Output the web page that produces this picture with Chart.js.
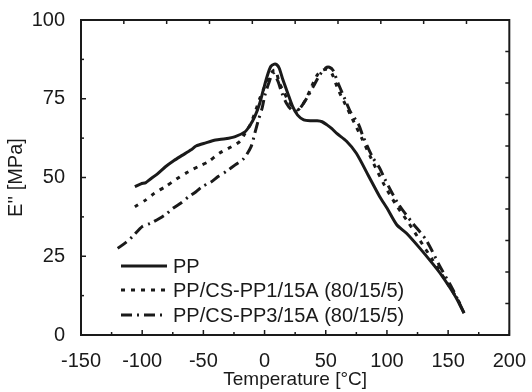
<!DOCTYPE html>
<html>
<head>
<meta charset="utf-8">
<script src="https://cdn.jsdelivr.net/npm/chart.js@4.4.0/dist/chart.umd.min.js"></script>
<style>
  html, body { margin: 0; padding: 0; background: #fff; }
  #wrap { width: 532px; height: 392px; }
</style>
</head>
<body>
<div id="wrap"><canvas id="chart"></canvas></div>
<script>
// Данные
const ppT = [-106, -101, -97, -94, -88, -81, -74, -67, -60, -56, -48, -40, -32, -24, -16, -12, -8, -4, -1, 2, 5, 8, 10, 12, 15, 19, 23, 27, 32, 38, 43, 47, 51, 55, 59, 67, 75, 85, 94, 100, 108, 116, 127, 137, 145, 151, 157, 163];
const ppE = [47.1, 48, 48.4, 49.3, 51, 53.4, 55.4, 57.1, 58.8, 60, 61, 61.9, 62.3, 63, 64.5, 66.5, 69.3, 73.5, 77.8, 82, 85.2, 86, 85.8, 84.7, 81, 76.7, 72.5, 69.8, 68.3, 68, 68, 67.7, 66.7, 65.5, 64, 61.5, 57.7, 50.5, 44, 40.3, 35, 32.3, 27.5, 22.8, 18.8, 15.3, 11.5, 6.9];

const pp1T = [-106, -97, -90, -81, -72, -62, -54, -46, -37, -27, -20, -16, -12, -8, -4, 0, 4, 8, 10, 12, 16, 19, 23, 27, 30, 34, 38, 43, 47, 51, 55, 60, 65, 70, 80, 89, 98, 108, 117, 127, 137, 146, 155, 162];
const pp1E = [40.7, 42.9, 45, 47.1, 49.5, 51.9, 53.5, 55, 57.7, 59.8, 61.5, 64, 66.5, 70.4, 75, 78.8, 82.5, 84.1, 83, 80, 77, 74.6, 72.5, 71.4, 72.5, 75, 78.5, 82.5, 84, 84.3, 83, 78, 74, 70, 62, 54.5, 47.5, 41, 36, 30, 24, 18.5, 13, 8.5];

const pp3T = [-120, -113, -108, -100, -93, -86, -80, -75, -68, -62, -56, -51, -44, -38, -31, -24, -17, -11, -8, -5, -2, 0, 3, 7, 11, 14, 18, 22, 26, 30, 35, 40, 45, 50, 53, 56, 60, 65, 70, 77, 80, 88, 94, 98, 109, 121, 132, 143, 154, 163];
const pp3E = [27.5, 29.5, 31.2, 34.4, 35.5, 37, 38.5, 40.2, 42, 43.9, 45.5, 47.1, 48.5, 50.3, 52, 54, 56, 59.8, 64, 68.3, 72, 75.7, 79.5, 83.1, 80.5, 77, 73.5, 71.5, 70.9, 72.5, 75.5, 79, 82.5, 84.8, 85, 84, 80, 75.5, 71, 66.7, 63.5, 56.6, 53, 49.7, 41.8, 35.5, 30.2, 22, 14.3, 7];

const seriesNames = ['PP', 'PP/CS-PP1/15A (80/15/5)', 'PP/CS-PP3/15A (80/15/5)'];

// Деления осей
const xTicks = [-150, -100, -50, 0, 50, 100, 150, 200];
const xMinor = [-125, -75, -25, 25, 75, 125, 175];
const yTicks = [0, 25, 50, 75, 100];
const yMinor = [12.5, 37.5, 62.5, 87.5];
const topTicks = [-115, -80, -45, -10, 25, 60, 95, 130, 165];
const rightTicks = [10, 20, 30, 40, 50, 60, 70, 80, 90];

const FONT = 'Arial, "Liberation Sans", sans-serif';
const INK = '#1a1a1a';

function toPoints(xs, ys) {
    return xs.map((x, i) => ({ x: x, y: ys[i] }));
}

// Рамка, засечки внутрь и легенда внутри графика
const framePlugin = {
    id: 'frame',
    afterDraw(chart) {
        const ctx = chart.ctx;
        const a = chart.chartArea;
        const xs = chart.scales.x;
        const ys = chart.scales.y;
        ctx.save();
        ctx.strokeStyle = INK;
        ctx.lineWidth = 2;
        ctx.setLineDash([]);
        ctx.strokeRect(a.left, a.top, a.right - a.left, a.bottom - a.top);

        ctx.lineWidth = 1.5;
        function vTick(v, len, atTop) {
            const px = xs.getPixelForValue(v);
            ctx.beginPath();
            if (atTop) { ctx.moveTo(px, a.top); ctx.lineTo(px, a.top + len); }
            else { ctx.moveTo(px, a.bottom); ctx.lineTo(px, a.bottom - len); }
            ctx.stroke();
        }
        function hTick(v, len, atRight) {
            const py = ys.getPixelForValue(v);
            ctx.beginPath();
            if (atRight) { ctx.moveTo(a.right, py); ctx.lineTo(a.right - len, py); }
            else { ctx.moveTo(a.left, py); ctx.lineTo(a.left + len, py); }
            ctx.stroke();
        }
        xTicks.forEach(v => vTick(v, 5, false));
        xMinor.forEach(v => vTick(v, 3, false));
        yTicks.forEach(v => hTick(v, 5, false));
        yMinor.forEach(v => hTick(v, 3, false));
        topTicks.forEach(v => vTick(v, 4, true));
        rightTicks.forEach(v => hTick(v, 4, true));

        // legend
        const rows = [266, 290, 315];
        ctx.font = '20px ' + FONT;
        ctx.fillStyle = INK;
        ctx.textBaseline = 'middle';
        chart.data.datasets.forEach((ds, i) => {
            ctx.strokeStyle = INK;
            ctx.lineWidth = ds.borderWidth;
            ctx.setLineDash(ds.borderDash || []);
            ctx.beginPath();
            ctx.moveTo(121, rows[i]);
            ctx.lineTo(167, rows[i]);
            ctx.stroke();
            ctx.setLineDash([]);
            ctx.fillText(ds.label, 173, rows[i] + 1);
        });
        ctx.restore();
    }
};

new Chart(document.getElementById('chart').getContext('2d'), {
    type: 'line',
    data: {
        datasets: [
            { label: seriesNames[0], data: toPoints(ppT, ppE), borderColor: INK, borderWidth: 3, borderDash: [] },
            { label: seriesNames[1], data: toPoints(pp1T, pp1E), borderColor: INK, borderWidth: 3, borderDash: [4, 6] },
            { label: seriesNames[2], data: toPoints(pp3T, pp3E), borderColor: INK, borderWidth: 3, borderDash: [11, 5, 2, 5] }
        ]
    },
    plugins: [framePlugin],
    options: {
        responsive: true,
        maintainAspectRatio: false,
        animation: false,
        layout: { padding: { top: 20, right: 18, left: 0, bottom: 0 } },
        elements: { point: { radius: 0 }, line: { tension: 0.25 } },
        plugins: { legend: { display: false }, tooltip: { enabled: false } },
        scales: {
            x: {
                type: 'linear',
                min: -150,
                max: 200,
                afterBuildTicks: s => { s.ticks = xTicks.map(v => ({ value: v })); },
                afterFit: s => { s.height = 57; },
                grid: { display: false },
                border: { display: false },
                ticks: { color: INK, font: { family: FONT, size: 20 }, padding: 6, maxRotation: 0, autoSkip: false },
                title: { display: true, text: 'Temperature [°C]', color: INK, font: { family: FONT, size: 19 }, padding: { top: 0, bottom: 1 } }
            },
            y: {
                min: 0,
                max: 100,
                afterBuildTicks: s => { s.ticks = yTicks.map(v => ({ value: v })); },
                afterFit: s => { s.width = 81; },
                grid: { display: false },
                border: { display: false },
                ticks: { color: INK, font: { family: FONT, size: 20 }, padding: 8 },
                title: { display: true, text: "E'' [MPa]", color: INK, font: { family: FONT, size: 20 }, padding: { top: 4, bottom: 0 } }
            }
        }
    }
});
</script>
</body>
</html>
